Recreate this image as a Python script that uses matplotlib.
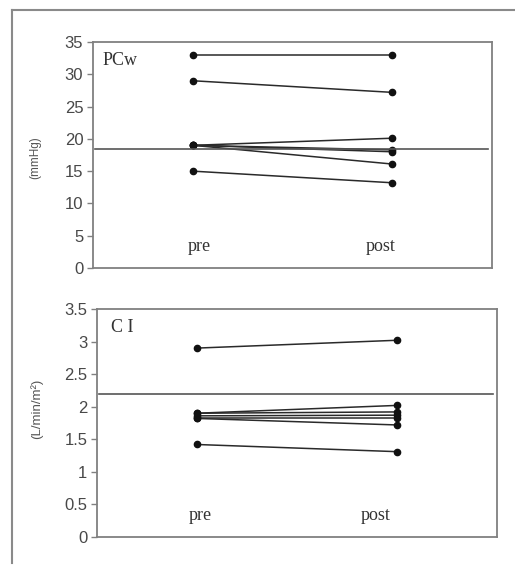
import matplotlib
matplotlib.use("Agg")
import matplotlib.pyplot as plt
from matplotlib.lines import Line2D

# PCw (mmHg), pre vs post per patient
pcw_pre = [33, 29, 19, 19, 19, 19, 15]
pcw_post = [33, 27.2, 20.1, 18.3, 18.0, 16.1, 13.2]
pcw_ref = 18.5
pcw_ticks = [0, 5, 10, 15, 20, 25, 30, 35]

# CI (L/min/m2), pre vs post per patient
ci_pre = [2.9, 1.9, 1.9, 1.86, 1.82, 1.82, 1.42]
ci_post = [3.02, 2.02, 1.92, 1.87, 1.82, 1.72, 1.31]
ci_ref = 2.2
ci_ticks = [0, 0.5, 1, 1.5, 2, 2.5, 3, 3.5]
ci_ticklabels = ["0", "0.5", "1", "1.5", "2", "2.5", "3", "3.5"]

X_PRE, X_POST = 1, 3
SERIF = "Liberation Serif"
SANS = "Liberation Sans"
SPINE = "#808080"
INK = "#2a2a2a"

fig = plt.figure(figsize=(5.15, 5.65), dpi=100)
fig.patch.set_facecolor("white")

# scanned page frame (left and top edges only)
fig.add_artist(Line2D([12 / 515, 12 / 515], [1 - 563 / 565, 1 - 10 / 565],
                      transform=fig.transFigure, color="#8a8a8a", lw=1.5))
fig.add_artist(Line2D([12 / 515, 1.0], [1 - 10 / 565, 1 - 10 / 565],
                      transform=fig.transFigure, color="#8a8a8a", lw=1.5))

ax_top = fig.add_axes([93 / 515, 1 - 268 / 565, 399 / 515, 226 / 565])
ax_bot = fig.add_axes([97 / 515, 1 - 537 / 565, 400 / 515, 228 / 565])


def draw_panel(ax, pre, post, ref, ylim, ticks, ticklabels, title, ylabel,
               pre_txt_x, post_txt_x, txt_y, ylabel_pos, ylabel_size, title_x):
    for a, b in zip(pre, post):
        ax.plot([X_PRE, X_POST], [a, b], color=INK, lw=1.1, marker="o",
                markersize=4.5, markerfacecolor="#111111", markeredgecolor="#111111")
    ax.axhline(ref, xmin=0.005, xmax=0.99, color="#555555", lw=1.2)
    ax.set_xlim(0, 4)
    ax.set_ylim(*ylim)
    ax.set_xticks([])
    ax.set_yticks(ticks)
    ax.set_yticklabels(ticklabels, family=SANS, fontsize=12, color="#484848")
    ax.tick_params(axis="y", direction="out", length=4, width=1, color=SPINE, pad=3)
    for sp in ax.spines.values():
        sp.set_color(SPINE)
        sp.set_linewidth(1.3)
    ax.text(title_x, 0.955, title, transform=ax.transAxes, ha="left", va="top",
            family=SERIF, fontsize=13, color="#333333")
    ax.text(pre_txt_x, txt_y, "pre", ha="center", va="center",
            family=SERIF, fontsize=13, color="#333333")
    ax.text(post_txt_x, txt_y, "post", ha="center", va="center",
            family=SERIF, fontsize=13, color="#333333")
    ax.set_ylabel(ylabel, family=SANS, fontsize=ylabel_size, color="#555555")
    ax.yaxis.set_label_coords(*ylabel_pos)


draw_panel(ax_top, pcw_pre, pcw_post, pcw_ref, (0, 35), pcw_ticks,
           [str(t) for t in pcw_ticks], "PCw", "(mmHg)",
           1.06, 2.88, 3.3, (-0.13, 0.49), 8.5, 0.025)
draw_panel(ax_bot, ci_pre, ci_post, ci_ref, (0, 3.5), ci_ticks,
           ci_ticklabels, "C I", "(L/min/m²)",
           1.03, 2.79, 0.33, (-0.135, 0.56), 9.5, 0.035)

fig.savefig("out.png", dpi=100, facecolor="white")
